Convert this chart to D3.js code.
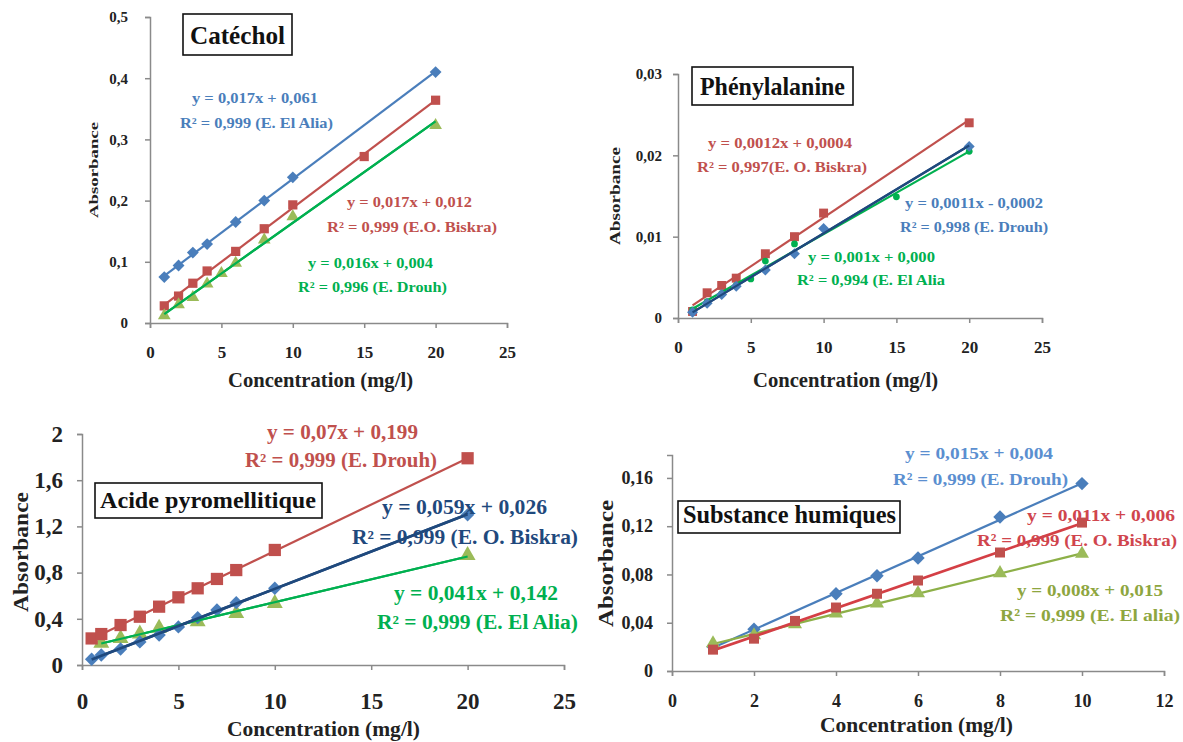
<!DOCTYPE html>
<html>
<head>
<meta charset="utf-8">
<script src="https://cdn.jsdelivr.net/npm/d3@7"></script>
<style>
  body { margin: 0; background: #fff; }
  text { font-family: "Liberation Serif", "Times New Roman", serif; font-weight: bold; }
</style>
</head>
<body>
<svg id="chart" width="1183" height="742"></svg>
<script>
// ---- data ----
// Catéchol
var catAliaX = [1, 2, 3, 4, 6, 8, 10, 20];
var catAliaY = [0.075, 0.094, 0.115, 0.129, 0.165, 0.2, 0.238, 0.41];
var catBiskraX = [1, 2, 3, 4, 6, 8, 10, 15, 20];
var catBiskraY = [0.028, 0.044, 0.065, 0.085, 0.117, 0.154, 0.193, 0.272, 0.364];
var catDrouhX = [1, 2, 3, 4, 5, 6, 8, 10, 20];
var catDrouhY = [0.012, 0.03, 0.042, 0.064, 0.081, 0.098, 0.136, 0.174, 0.323];
var catXTicks = [0, 5, 10, 15, 20, 25];
var catYTicks = [0, 0.1, 0.2, 0.3, 0.4, 0.5];

// Phénylalanine
var pheBiskraX = [1, 2, 3, 4, 6, 8, 10, 20];
var pheBiskraY = [0.0008, 0.0031, 0.004, 0.0049, 0.0079, 0.01, 0.0129, 0.024];
var pheDrouhX = [1, 2, 3, 4, 6, 8, 10, 20];
var pheDrouhY = [0.0007, 0.0018, 0.0029, 0.0039, 0.0059, 0.0079, 0.011, 0.0211];
var pheAliaX = [1, 2, 3, 4, 5, 6, 8, 15, 20];
var pheAliaY = [0.001, 0.002, 0.003, 0.004, 0.0048, 0.007, 0.0091, 0.0149, 0.0205];
var pheXTicks = [0, 5, 10, 15, 20, 25];
var pheYTicks = [0, 0.01, 0.02, 0.03];

// Acide pyromellitique
var pyrDrouhX = [0.5, 1, 2, 3, 4, 5, 6, 7, 8, 10, 20];
var pyrDrouhY = [0.23, 0.268, 0.346, 0.418, 0.505, 0.586, 0.664, 0.745, 0.822, 0.996, 1.79];
var pyrBiskraX = [0.5, 1, 2, 3, 4, 5, 6, 7, 8, 10, 20];
var pyrBiskraY = [0.05, 0.087, 0.139, 0.2, 0.26, 0.33, 0.41, 0.476, 0.54, 0.664, 1.3];
var pyrAliaX = [1, 2, 3, 4, 6, 8, 10, 20];
var pyrAliaY = [0.19, 0.23, 0.27, 0.32, 0.375, 0.447, 0.534, 0.95];
var pyrXTicks = [0, 5, 10, 15, 20, 25];
var pyrYTicks = [0, 0.4, 0.8, 1.2, 1.6, 2];

// Substance humiques
var humDrouhX = [1, 2, 4, 5, 6, 8, 10];
var humDrouhY = [0.02, 0.0346, 0.064, 0.079, 0.0936, 0.1276, 0.1553];
var humBiskraX = [1, 2, 3, 4, 5, 6, 8, 10];
var humBiskraY = [0.0177, 0.0268, 0.0415, 0.0526, 0.064, 0.075, 0.0982, 0.123];
var humAliaX = [1, 2, 3, 4, 5, 6, 8, 10];
var humAliaY = [0.023, 0.0296, 0.0388, 0.0476, 0.056, 0.0645, 0.0811, 0.0971];
var humXTicks = [0, 2, 4, 6, 8, 10, 12];
var humYTicks = [0, 0.04, 0.08, 0.12, 0.16];

// ---- colours ----
var blueMk = "#4a7ebb", redMk = "#c0504d", greenMk = "#9bbb59";
var brightGreen = "#00b050", navy = "#1f497d";

var svg = d3.select("#chart");

function zip(xs, ys) { return xs.map(function(x, i) { return { x: x, y: ys[i] }; }); }

// least squares trend line, like the Excel trendlines in the figure
function trend(pts) {
    var mx = d3.mean(pts, function(p) { return p.x; });
    var my = d3.mean(pts, function(p) { return p.y; });
    var sxy = d3.sum(pts, function(p) { return (p.x - mx) * (p.y - my); });
    var sxx = d3.sum(pts, function(p) { return (p.x - mx) * (p.x - mx); });
    var b = sxy / sxx, a = my - b * mx;
    var x0 = d3.min(pts, function(p) { return p.x; }), x1 = d3.max(pts, function(p) { return p.x; });
    return [{ x: x0, y: a + b * x0 }, { x: x1, y: a + b * x1 }];
}

var comma = function(d) { return String(+d.toFixed(4)).replace(".", ","); };

function drawPanel(p) {
    var g = svg.append("g");
    var x = d3.scaleLinear().domain(p.xDom).range(p.xRange);
    var y = d3.scaleLinear().domain(p.yDom).range(p.yRange);

    var yAxis = d3.axisLeft(y).tickValues(p.yTicks).tickFormat(comma)
        .tickSizeOuter(0).tickSize(5).tickPadding(p.yPad);
    var xAxis = d3.axisBottom(x).tickValues(p.xTicks).tickFormat(comma)
        .tickSizeOuter(0).tickSize(5).tickPadding(p.xPad);

    var ya = g.append("g").attr("transform", "translate(" + p.xRange[0] + ",0)").call(yAxis);
    var xa = g.append("g").attr("transform", "translate(0," + p.yRange[0] + ")").call(xAxis);
    [ya, xa].forEach(function(a) {
        a.selectAll(".domain, .tick line").attr("stroke", "#8a8a8a").attr("stroke-width", 1.5);
        a.selectAll("text").attr("fill", "#222").style("font-family", "'Liberation Serif', serif")
            .style("font-weight", "bold");
    });
    ya.selectAll("text").style("font-size", p.yFont + "px");
    xa.selectAll("text").style("font-size", p.xFont + "px");

    // axis titles
    var ct = p.xTitle;
    g.append("text").attr("x", ct[0]).attr("y", ct[2]).attr("textLength", ct[1] - ct[0])
        .attr("lengthAdjust", "spacingAndGlyphs").style("font-size", ct[3] + "px")
        .attr("fill", "#222").text("Concentration (mg/l)");
    var at = p.yTitle;
    g.append("text").attr("transform", "translate(" + (at[0] + at[3] * 0.35) + "," + at[2] + ") rotate(-90)")
        .attr("textLength", at[2] - at[1]).attr("lengthAdjust", "spacingAndGlyphs")
        .style("font-size", at[3] + "px").attr("fill", "#222").text("Absorbance");

    // series
    p.series.forEach(function(s) {
        var pts = zip(s.x, s.y);
        g.append("path").datum(trend(pts))
            .attr("d", d3.line().x(function(d) { return x(d.x); }).y(function(d) { return y(d.y); }))
            .attr("fill", "none").attr("stroke", s.line).attr("stroke-width", s.lw || 2.2);
        var sym = { diamond: d3.symbolSquare, square: d3.symbolSquare, triangle: d3.symbolTriangle, circle: d3.symbolCircle }[s.mk];
        g.selectAll(null).data(pts).enter().append("path")
            .attr("d", d3.symbol().type(sym).size(s.size))
            .attr("transform", function(d) {
                return "translate(" + x(d.x) + "," + y(d.y) + ")" + (s.mk === "diamond" ? " rotate(45)" : "");
            })
            .attr("fill", s.color);
    });
    // lines drawn again over the markers where the figure shows that
    p.series.forEach(function(s) {
        if (!s.lineOnTop) return;
        g.append("path").datum(trend(zip(s.x, s.y)))
            .attr("d", d3.line().x(function(d) { return x(d.x); }).y(function(d) { return y(d.y); }))
            .attr("fill", "none").attr("stroke", s.line).attr("stroke-width", s.lw || 2.2);
    });

    // equation labels
    p.labels.forEach(function(l) {
        l.rows.forEach(function(r, i) {
            g.append("text").attr("x", r[0]).attr("y", r[2]).attr("textLength", r[1] - r[0])
                .attr("lengthAdjust", "spacingAndGlyphs").style("font-size", l.size + "px")
                .attr("fill", l.color).text(l.text[i]);
        });
    });

    // title box
    var t = p.title;
    g.append("rect").attr("x", t.box[0]).attr("y", t.box[1])
        .attr("width", t.box[2] - t.box[0]).attr("height", t.box[3] - t.box[1])
        .attr("fill", "#fff").attr("stroke", "#111").attr("stroke-width", 1.6);
    g.append("text").attr("x", t.tx[0]).attr("y", t.tx[2]).attr("textLength", t.tx[1] - t.tx[0])
        .attr("lengthAdjust", "spacingAndGlyphs").style("font-size", t.size + "px")
        .attr("fill", "#111").text(t.text);
}

var panels = [
    {
        xDom: [0, 25], xRange: [150, 507], yDom: [0, 0.5], yRange: [323, 17],
        xTicks: catXTicks, yTicks: catYTicks, xPad: 18, yPad: 17, xFont: 17, yFont: 15,
        xTitle: [228, 413, 387, 22], yTitle: [93, 122, 218, 13],
        series: [
            { x: catAliaX, y: catAliaY, mk: "diamond", color: blueMk, line: blueMk, size: 70 },
            { x: catBiskraX, y: catBiskraY, mk: "square", color: redMk, line: redMk, size: 85 },
            { x: catDrouhX, y: catDrouhY, mk: "triangle", color: greenMk, line: brightGreen, size: 70, lineOnTop: true }
        ],
        labels: [
            { text: ["y = 0,017x + 0,061", "R² = 0,999 (E. El Alia)"], color: blueMk, size: 15,
              rows: [[192, 318, 103], [180, 333, 128]] },
            { text: ["y = 0,017x + 0,012", "R² = 0,999 (E.O. Biskra)"], color: redMk, size: 15,
              rows: [[347, 472, 207], [327, 497, 232]] },
            { text: ["y = 0,016x + 0,004", "R² = 0,996 (E. Drouh)"], color: brightGreen, size: 15,
              rows: [[308, 433, 268], [298, 447, 292]] }
        ],
        title: { text: "Catéchol", box: [183, 14, 292, 55], tx: [190, 285, 44], size: 26 }
    },
    {
        xDom: [0, 25], xRange: [678, 1042], yDom: [0, 0.03], yRange: [318, 74],
        xTicks: pheXTicks, yTicks: pheYTicks, xPad: 18, yPad: 11, xFont: 17, yFont: 15,
        xTitle: [753, 938, 387, 22], yTitle: [615, 147, 245, 15],
        series: [
            { x: pheBiskraX, y: pheBiskraY, mk: "square", color: redMk, line: redMk, size: 80 },
            { x: pheAliaX, y: pheAliaY, mk: "circle", color: brightGreen, line: brightGreen, size: 36 },
            { x: pheDrouhX, y: pheDrouhY, mk: "diamond", color: blueMk, line: navy, size: 60, lineOnTop: true }
        ],
        labels: [
            { text: ["y = 0,0012x + 0,0004", "R² = 0,997(E. O. Biskra)"], color: redMk, size: 15,
              rows: [[708, 852, 148], [697, 867, 172]] },
            { text: ["y = 0,0011x - 0,0002", "R² = 0,998 (E. Drouh)"], color: blueMk, size: 15,
              rows: [[905, 1043, 208], [900, 1048, 232]] },
            { text: ["y = 0,001x + 0,000", "R² = 0,994 (E. El Alia"], color: brightGreen, size: 15,
              rows: [[808, 935, 262], [797, 945, 285]] }
        ],
        title: { text: "Phénylalanine", box: [692, 67, 853, 105], tx: [700, 845, 95], size: 25 }
    },
    {
        xDom: [0, 25], xRange: [82, 564], yDom: [0, 2], yRange: [665, 434],
        xTicks: pyrXTicks, yTicks: pyrYTicks, xPad: 23, yPad: 14, xFont: 23, yFont: 23,
        xTitle: [227, 420, 736, 22], yTitle: [21, 492, 612, 21],
        series: [
            { x: pyrAliaX, y: pyrAliaY, mk: "triangle", color: greenMk, line: brightGreen, size: 110, lineOnTop: true },
            { x: pyrDrouhX, y: pyrDrouhY, mk: "square", color: redMk, line: redMk, size: 150 },
            { x: pyrBiskraX, y: pyrBiskraY, mk: "diamond", color: blueMk, line: navy, size: 90, lw: 2.6, lineOnTop: true }
        ],
        labels: [
            { text: ["y = 0,07x + 0,199", "R² = 0,999 (E. Drouh)"], color: redMk, size: 20,
              rows: [[267, 418, 439], [245, 437, 467]] },
            { text: ["y = 0,059x + 0,026", "R² = 0,999 (E. O. Biskra)"], color: navy, size: 20,
              rows: [[382, 547, 514], [352, 578, 544]] },
            { text: ["y = 0,041x + 0,142", "R² = 0,999 (E. El Alia)"], color: brightGreen, size: 20,
              rows: [[394, 558, 600], [377, 578, 629]] }
        ],
        title: { text: "Acide pyromellitique", box: [95, 483, 322, 518], tx: [100, 316, 508], size: 24 }
    },
    {
        xDom: [0, 12], xRange: [672, 1164], yDom: [0, 0.179], yRange: [671, 455],
        xTicks: humXTicks, yTicks: humYTicks, xPad: 18, yPad: 14, xFont: 18, yFont: 18,
        xTitle: [820, 1013, 732, 21], yTitle: [606, 500, 627, 20],
        series: [
            { x: humDrouhX, y: humDrouhY, mk: "diamond", color: blueMk, line: blueMk, size: 90 },
            { x: humAliaX, y: humAliaY, mk: "triangle", color: greenMk, line: "#8db048", size: 85 },
            { x: humBiskraX, y: humBiskraY, mk: "square", color: redMk, line: "#d43f45", size: 100, lw: 2.8 }
        ],
        labels: [
            { text: ["y = 0,015x + 0,004", "R² = 0,999 (E. Drouh)"], color: "#5b8fd0", size: 17,
              rows: [[905, 1053, 459], [893, 1068, 485]] },
            { text: ["y = 0,011x + 0,006", "R² = 0,999 (E. O. Biskra)"], color: "#d0454d", size: 17,
              rows: [[1027, 1175, 521], [977, 1177, 546]] },
            { text: ["y = 0,008x + 0,015", "R² = 0,999 (E. El alia)"], color: "#8ea63f", size: 17,
              rows: [[1017, 1163, 596], [1000, 1180, 621]] }
        ],
        title: { text: "Substance humiques", box: [678, 501, 900, 533], tx: [683, 896, 523], size: 25 }
    }
];

panels.forEach(drawPanel);
</script>
</body>
</html>
